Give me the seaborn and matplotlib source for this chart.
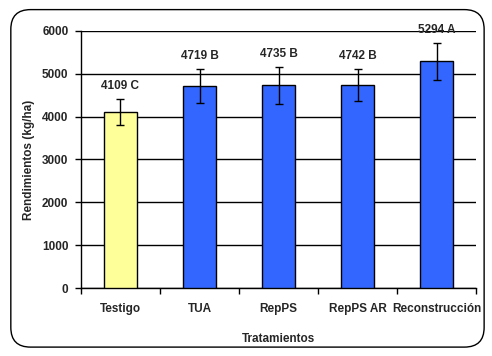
import matplotlib
matplotlib.use("Agg")
import matplotlib.pyplot as plt
import seaborn as sns
import pandas as pd
from matplotlib.patches import FancyBboxPatch

categories = ["Testigo", "TUA", "RepPS", "RepPS AR", "Reconstrucción"]
values = [4109, 4719, 4735, 4742, 5294]
errors = [295, 400, 430, 370, 430]
letters = ["C", "B", "B", "B", "A"]
colors = ["#FFFF99", "#3366FF", "#3366FF", "#3366FF", "#3366FF"]
yticks = [0, 1000, 2000, 3000, 4000, 5000, 6000]

sns.set_theme(style="white")
plt.rcParams["font.family"] = ["Liberation Sans", "DejaVu Sans"]
plt.rcParams["font.weight"] = "bold"

df = pd.DataFrame({"Tratamiento": categories, "Rendimiento": values})

fig = plt.figure(figsize=(4.92, 3.56), dpi=100)
fig.patch.set_facecolor("white")
border = FancyBboxPatch((0.022, 0.025), 0.962, 0.948, boxstyle="round,pad=0,rounding_size=0.04",
                        transform=fig.transFigure, facecolor="none", edgecolor="black",
                        linewidth=1.0, mutation_aspect=492/356, zorder=-1)
fig.patches.append(border)

ax = fig.add_axes([0.1646, 0.191, 0.803, 0.722])
ax.set_facecolor("none")
sns.barplot(data=df, x="Tratamiento", y="Rendimiento", hue="Tratamiento",
            palette=colors, saturation=1, width=0.42, edgecolor="black", linewidth=1.0,
            legend=False, ax=ax, zorder=3, errorbar=None)
ax.errorbar(range(len(values)), values, yerr=errors, fmt="none", ecolor="black",
            elinewidth=1.0, capsize=3, capthick=1.0, zorder=4)
for i, (v, e, l) in enumerate(zip(values, errors, letters)):
    ax.annotate(f"{v} {l}", (i, v + e), xytext=(0, 5), textcoords="offset points",
                ha="center", va="bottom", fontsize=8.5, fontweight="bold")

ax.set_ylim(0, 6000)
ax.set_xlim(-0.5, 4.5)
ax.set_yticks(yticks)
ax.set_yticklabels([str(t) for t in yticks], fontsize=8.5, fontweight="bold")
ax.yaxis.grid(True, color="black", linewidth=1.0)
ax.set_axisbelow(True)
ax.set_xticks([-0.5, 0.5, 1.5, 2.5, 3.5, 4.5])
ax.set_xticklabels([])
ax.set_xticks(range(len(categories)), minor=True)
ax.set_xticklabels(categories, minor=True, fontsize=8.5, fontweight="bold")
ax.tick_params(axis="x", which="minor", length=0, pad=11)
ax.tick_params(axis="x", which="major", direction="out", length=4, width=1, color="black", bottom=True)
ax.tick_params(axis="y", direction="out", length=4, width=1, color="black", left=True, pad=5)
for s in ["top", "right"]:
    ax.spines[s].set_visible(False)
for s in ["left", "bottom"]:
    ax.spines[s].set_color("black")
    ax.spines[s].set_linewidth(1.0)
ax.set_xlabel("Tratamientos", fontsize=8.5, fontweight="bold", labelpad=13)
ax.set_ylabel("Rendimientos (kg/ha)", fontsize=8.5, fontweight="bold", labelpad=5)

fig.savefig("out.png", dpi=100)
